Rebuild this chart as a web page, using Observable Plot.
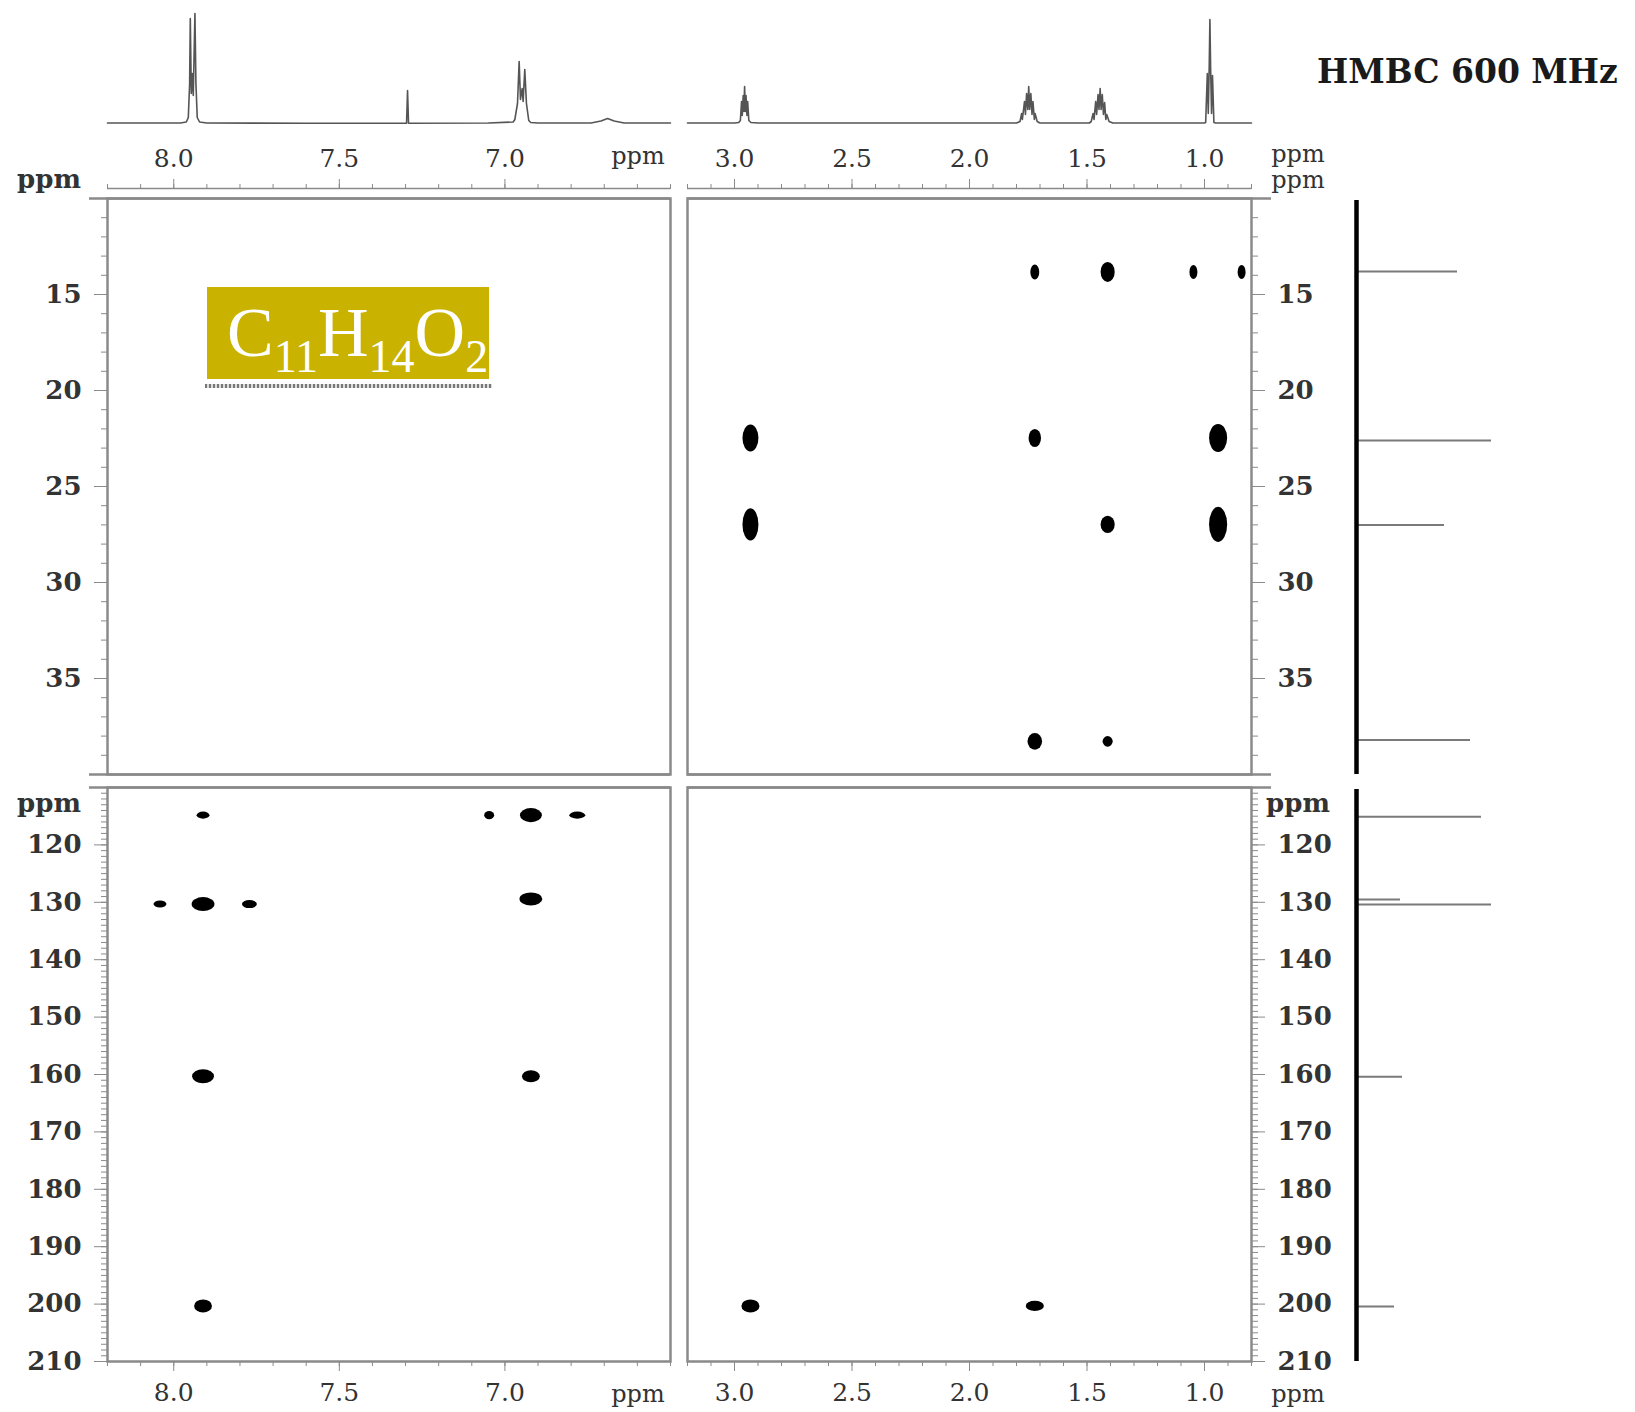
<!DOCTYPE html>
<html><head><meta charset="utf-8">
<script src="https://cdn.jsdelivr.net/npm/d3@7"></script>
<script src="https://cdn.jsdelivr.net/npm/@observablehq/plot@0.6"></script>
<style>
body{margin:0;background:#fff;}
#wrap{position:relative;width:1635px;height:1412px;overflow:hidden;background:#fff;}
#wrap svg{position:absolute;left:0;top:0;background:transparent;max-width:none;}
.lab{position:absolute;transform:translate(-50%,-50%);white-space:nowrap;color:#333;font-family:"DejaVu Serif";font-size:24px;line-height:1;}
#title{position:absolute;left:1317px;top:55px;font-family:"DejaVu Serif";font-weight:bold;font-size:33px;color:#1a1a1a;white-space:nowrap;line-height:1;}
#formula{position:absolute;left:207px;top:287px;width:282px;height:92px;background:#cab300;color:#fff;font-family:"Liberation Serif";font-size:70px;line-height:92px;box-sizing:border-box;padding-left:20px;white-space:nowrap;}
#formula sub{font-size:46px;vertical-align:-16px;line-height:0;}
#dots{position:absolute;left:205px;top:384px;width:287px;height:4px;background:repeating-linear-gradient(90deg,#777 0 2px,#ddd 2px 4px);}
</style></head><body><div id="wrap">
<div id="title">HMBC 600 MHz</div>
<div id="formula">C<sub>11</sub>H<sub>14</sub>O<sub>2</sub></div>
<div id="dots"></div>
</div>
<script>
// ---------- data ----------
// 1H projection, aromatic segment: [ppm, intensity]
const h1Left = [
  [8.20,0.5],[7.98,0.5],[7.962,1.5],[7.956,6],[7.952,40],[7.950,105],[7.947,30],[7.944,50],[7.941,28],[7.936,110],[7.933,40],[7.929,6],[7.922,1.5],[7.90,0.5],
  [7.60,0.2],[7.297,0.2],[7.294,33],[7.291,0.2],
  [7.05,0.5],[6.975,1.5],[6.970,4],[6.962,20],[6.957,62],[6.953,24],[6.948,35],[6.945,22],[6.940,54],[6.935,20],[6.928,3],[6.922,1],[6.90,0.5],
  [6.74,0.5],[6.71,2.5],[6.69,5],[6.67,2.5],[6.64,0.5],[6.50,0.5]
];
// 1H projection, aliphatic segment: [ppm, intensity]
const h1Right = [
  [3.20,0.5],[3.00,0.5],[2.982,1],[2.975,3],[2.970,22],[2.967,8],[2.963,28],[2.960,12],[2.957,37],[2.954,12],[2.951,28],[2.947,8],[2.944,22],[2.939,3],[2.93,1],[2.90,0.5],
  [2.50,0.5],[1.80,0.5],[1.785,2],[1.778,10],[1.775,4],[1.766,22],[1.762,9],[1.757,30],[1.752,14],[1.748,37],[1.744,14],[1.739,30],[1.734,9],[1.730,22],[1.724,4],[1.721,10],[1.712,2],[1.70,0.5],
  [1.49,0.5],[1.482,2],[1.474,10],[1.470,4],[1.463,22],[1.459,9],[1.453,29],[1.449,14],[1.444,35],[1.440,14],[1.435,29],[1.430,9],[1.425,21],[1.420,4],[1.416,9],[1.406,2],[1.39,0.5],
  [1.00,0.5],[0.995,1],[0.988,50],[0.984,10],[0.980,56],[0.977,104],[0.974,56],[0.970,10],[0.966,48],[0.960,1],[0.952,0.5],[0.80,0.5]
];
// 13C projection: shift (ppm) and intensity
const c13Ppm = [13.8, 22.6, 27.0, 38.2, 115.1, 129.5, 130.4, 160.4, 200.4];
const c13Int = [101, 135, 88, 114, 125, 44, 135, 46, 38];
// HMBC cross peaks: 1H shift, 13C shift, extent along 1H (ppm), extent along 13C (ppm)
const xpH  = [1.72,1.41,1.045,0.84, 2.93,1.72,0.94, 2.93,1.41,0.94, 1.72,1.41, 7.91,7.046,6.92,6.78, 8.04,7.91,7.77,6.92, 7.91,6.92, 7.91, 2.93,1.72];
const xpC  = [13.85,13.85,13.85,13.85, 22.5,22.5,22.5, 27.0,27.0,27.0, 38.3,38.3, 114.9,114.9,114.9,114.9, 130.4,130.4,130.4,129.5, 160.4,160.4, 200.4, 200.4,200.4];
const xpWH = [0.038,0.06,0.034,0.034, 0.068,0.053,0.077, 0.068,0.06,0.077, 0.062,0.043, 0.039,0.03,0.066,0.048, 0.039,0.069,0.045,0.069, 0.066,0.054, 0.054, 0.077,0.077];
const xpWC = [0.78,1.04,0.73,0.73, 1.41,0.94,1.46, 1.67,0.89,1.83, 0.87,0.55, 1.22,1.4,2.44,1.22, 1.22,2.44,1.4,2.27, 2.44,2.1, 2.27, 2.27,1.75];
// axis tick labels
const h1TicksLeft = [8.0, 7.5, 7.0];
const h1TicksRight = [3.0, 2.5, 2.0, 1.5, 1.0];
const c13TicksTop = [15, 20, 25, 30, 35];
const c13TicksBottom = [120, 130, 140, 150, 160, 170, 180, 190, 200, 210];
// axis ranges (ppm)
const h1RangeLeft = [8.2, 6.5], h1RangeRight = [3.2, 0.8];
const c13RangeTop = [10, 40], c13RangeBottom = [110, 210];

// ---------- drawing ----------
const W = 1635, H = 1412;
const FONT = "DejaVu Serif";
const GRAY = "#8a8a8a";
const wrap = document.getElementById("wrap");
const colL = [107, 670], colR = [687, 1251];
const rowT = [198, 774], rowB = [787, 1361];

const peaks = xpH.map((h, i) => ({h, c: xpC[i], wh: xpWH[i], wc: xpWC[i]}));
const c13 = c13Ppm.map((p, i) => ({p, v: c13Int[i]}));
const inR = (v, [a, b]) => v >= Math.min(a, b) && v <= Math.max(a, b);

function plotAt(xDomain, yDomain, [l, r], [t, b], marks, yReverse = true) {
  const svg = Plot.plot({
    width: W, height: H,
    marginLeft: l, marginRight: W - r, marginTop: t, marginBottom: H - b,
    x: {domain: xDomain, axis: null},
    y: {domain: yDomain, reverse: yReverse, axis: null},
    style: {background: "transparent", fontFamily: FONT, fontSize: "25px", color: "#333", overflow: "visible"},
    marks
  });
  wrap.appendChild(svg);
  return svg;
}
const steps = (a, b, s) => d3.range(Math.round(Math.min(a, b) / s), Math.round(Math.max(a, b) / s) + 1).map(v => +(v * s).toFixed(3));

function spots(xr, yr) {
  return Plot.rect(peaks.filter(d => inR(d.h, xr) && inR(d.c, yr)), {
    x1: d => d.h + d.wh / 2, x2: d => d.h - d.wh / 2,
    y1: d => d.c - d.wc / 2, y2: d => d.c + d.wc / 2,
    fill: "black", rx: 300, ry: 300
  });
}

// 1H projections
plotAt(h1RangeLeft, [0, 110], colL, [13, 123], [
  Plot.line(h1Left, {x: d => d[0], y: d => d[1], stroke: "#555", strokeWidth: 1.6})
], false);
plotAt(h1RangeRight, [0, 110], colR, [13, 123], [
  Plot.line(h1Right, {x: d => d[0], y: d => d[1], stroke: "#555", strokeWidth: 1.6})
], false);

function topAxis(range, ticks) {
  return [
    Plot.axisX(steps(range[0], range[1], 0.1), {anchor: "top", dy: -10, tickSize: 5, tickFormat: () => "", stroke: GRAY, label: null}),
    Plot.axisX(ticks, {anchor: "top", dy: -10, tickSize: 10, tickPadding: 12, tickFormat: d => d.toFixed(1), stroke: GRAY, label: null})
  ];
}
function bottomAxis(range, ticks) {
  return [
    Plot.axisX(steps(range[0], range[1], 0.1), {anchor: "bottom", tickSize: 5, tickFormat: () => "", stroke: GRAY, label: null}),
    Plot.axisX(ticks, {anchor: "bottom", tickSize: 10, tickPadding: 12, tickFormat: d => d.toFixed(1), stroke: GRAY, label: null})
  ];
}
function sideAxis(anchor, range, ticks, minorStep) {
  return [
    Plot.axisY(steps(range[0], range[1], minorStep), {anchor, tickSize: 6, tickFormat: () => "", stroke: GRAY, label: null}),
    Plot.axisY(ticks, {anchor, tickSize: 13, tickPadding: 13, stroke: GRAY, fontWeight: "bold", fontSize: 26, label: null})
  ];
}

// top-left panel
plotAt(h1RangeLeft, c13RangeTop, colL, rowT, [
  Plot.frame({stroke: GRAY, strokeWidth: 2.5}),
  Plot.ruleY(c13RangeTop, {stroke: GRAY, strokeWidth: 2.5, insetLeft: -18}),
  Plot.ruleY([c13RangeTop[0]], {dy: -10, stroke: GRAY, strokeWidth: 1.5}),
  ...topAxis(h1RangeLeft, h1TicksLeft),
  ...sideAxis("left", c13RangeTop, c13TicksTop, 1),
  spots(h1RangeLeft, c13RangeTop)
]);
// top-right panel
plotAt(h1RangeRight, c13RangeTop, colR, rowT, [
  Plot.frame({stroke: GRAY, strokeWidth: 2.5}),
  Plot.ruleY(c13RangeTop, {stroke: GRAY, strokeWidth: 2.5, insetRight: -20}),
  Plot.ruleY([c13RangeTop[0]], {dy: -10, stroke: GRAY, strokeWidth: 1.5}),
  ...topAxis(h1RangeRight, h1TicksRight),
  ...sideAxis("right", c13RangeTop, c13TicksTop, 1),
  spots(h1RangeRight, c13RangeTop)
]);
// bottom-left panel
plotAt(h1RangeLeft, c13RangeBottom, colL, rowB, [
  Plot.frame({stroke: GRAY, strokeWidth: 2.5}),
  Plot.ruleY([c13RangeBottom[0]], {stroke: GRAY, strokeWidth: 2.5, insetLeft: -18}),
  ...bottomAxis(h1RangeLeft, h1TicksLeft),
  ...sideAxis("left", c13RangeBottom, c13TicksBottom, 1),
  spots(h1RangeLeft, c13RangeBottom)
]);
// bottom-right panel
plotAt(h1RangeRight, c13RangeBottom, colR, rowB, [
  Plot.frame({stroke: GRAY, strokeWidth: 2.5}),
  Plot.ruleY([c13RangeBottom[0]], {stroke: GRAY, strokeWidth: 2.5, insetRight: -20}),
  ...bottomAxis(h1RangeRight, h1TicksRight),
  ...sideAxis("right", c13RangeBottom, c13TicksBottom, 1),
  spots(h1RangeRight, c13RangeBottom)
]);

// 13C projections
plotAt([0, 135], c13RangeTop, [1356, 1491], rowT, [
  Plot.ruleY(c13.filter(d => inR(d.p, c13RangeTop)), {y: "p", x1: 0, x2: "v", stroke: "#7a7a7a", strokeWidth: 2}),
  Plot.ruleX([0], {stroke: "black", strokeWidth: 4.5, insetTop: 2})
]);
plotAt([0, 135], c13RangeBottom, [1356, 1491], rowB, [
  Plot.ruleY(c13.filter(d => inR(d.p, c13RangeBottom)), {y: "p", x1: 0, x2: "v", stroke: "#7a7a7a", strokeWidth: 2}),
  Plot.ruleX([0], {stroke: "black", strokeWidth: 4.5, insetTop: 2})
]);

// unit labels
function label(text, cx, cy, extra = {}) {
  const d = document.createElement("div");
  d.className = "lab"; d.textContent = text;
  d.style.left = cx + "px"; d.style.top = cy + "px";
  Object.assign(d.style, extra);
  wrap.appendChild(d);
}
label("ppm", 49, 179, {fontWeight: "bold", fontSize: "26px"});
label("ppm", 638, 156);
label("ppm", 1298, 154);
label("ppm", 1298, 180);
label("ppm", 49, 803, {fontWeight: "bold", fontSize: "26px"});
label("ppm", 1298, 803, {fontWeight: "bold", fontSize: "26px"});
label("ppm", 638, 1394);
label("ppm", 1298, 1394);
</script>
</body></html>
